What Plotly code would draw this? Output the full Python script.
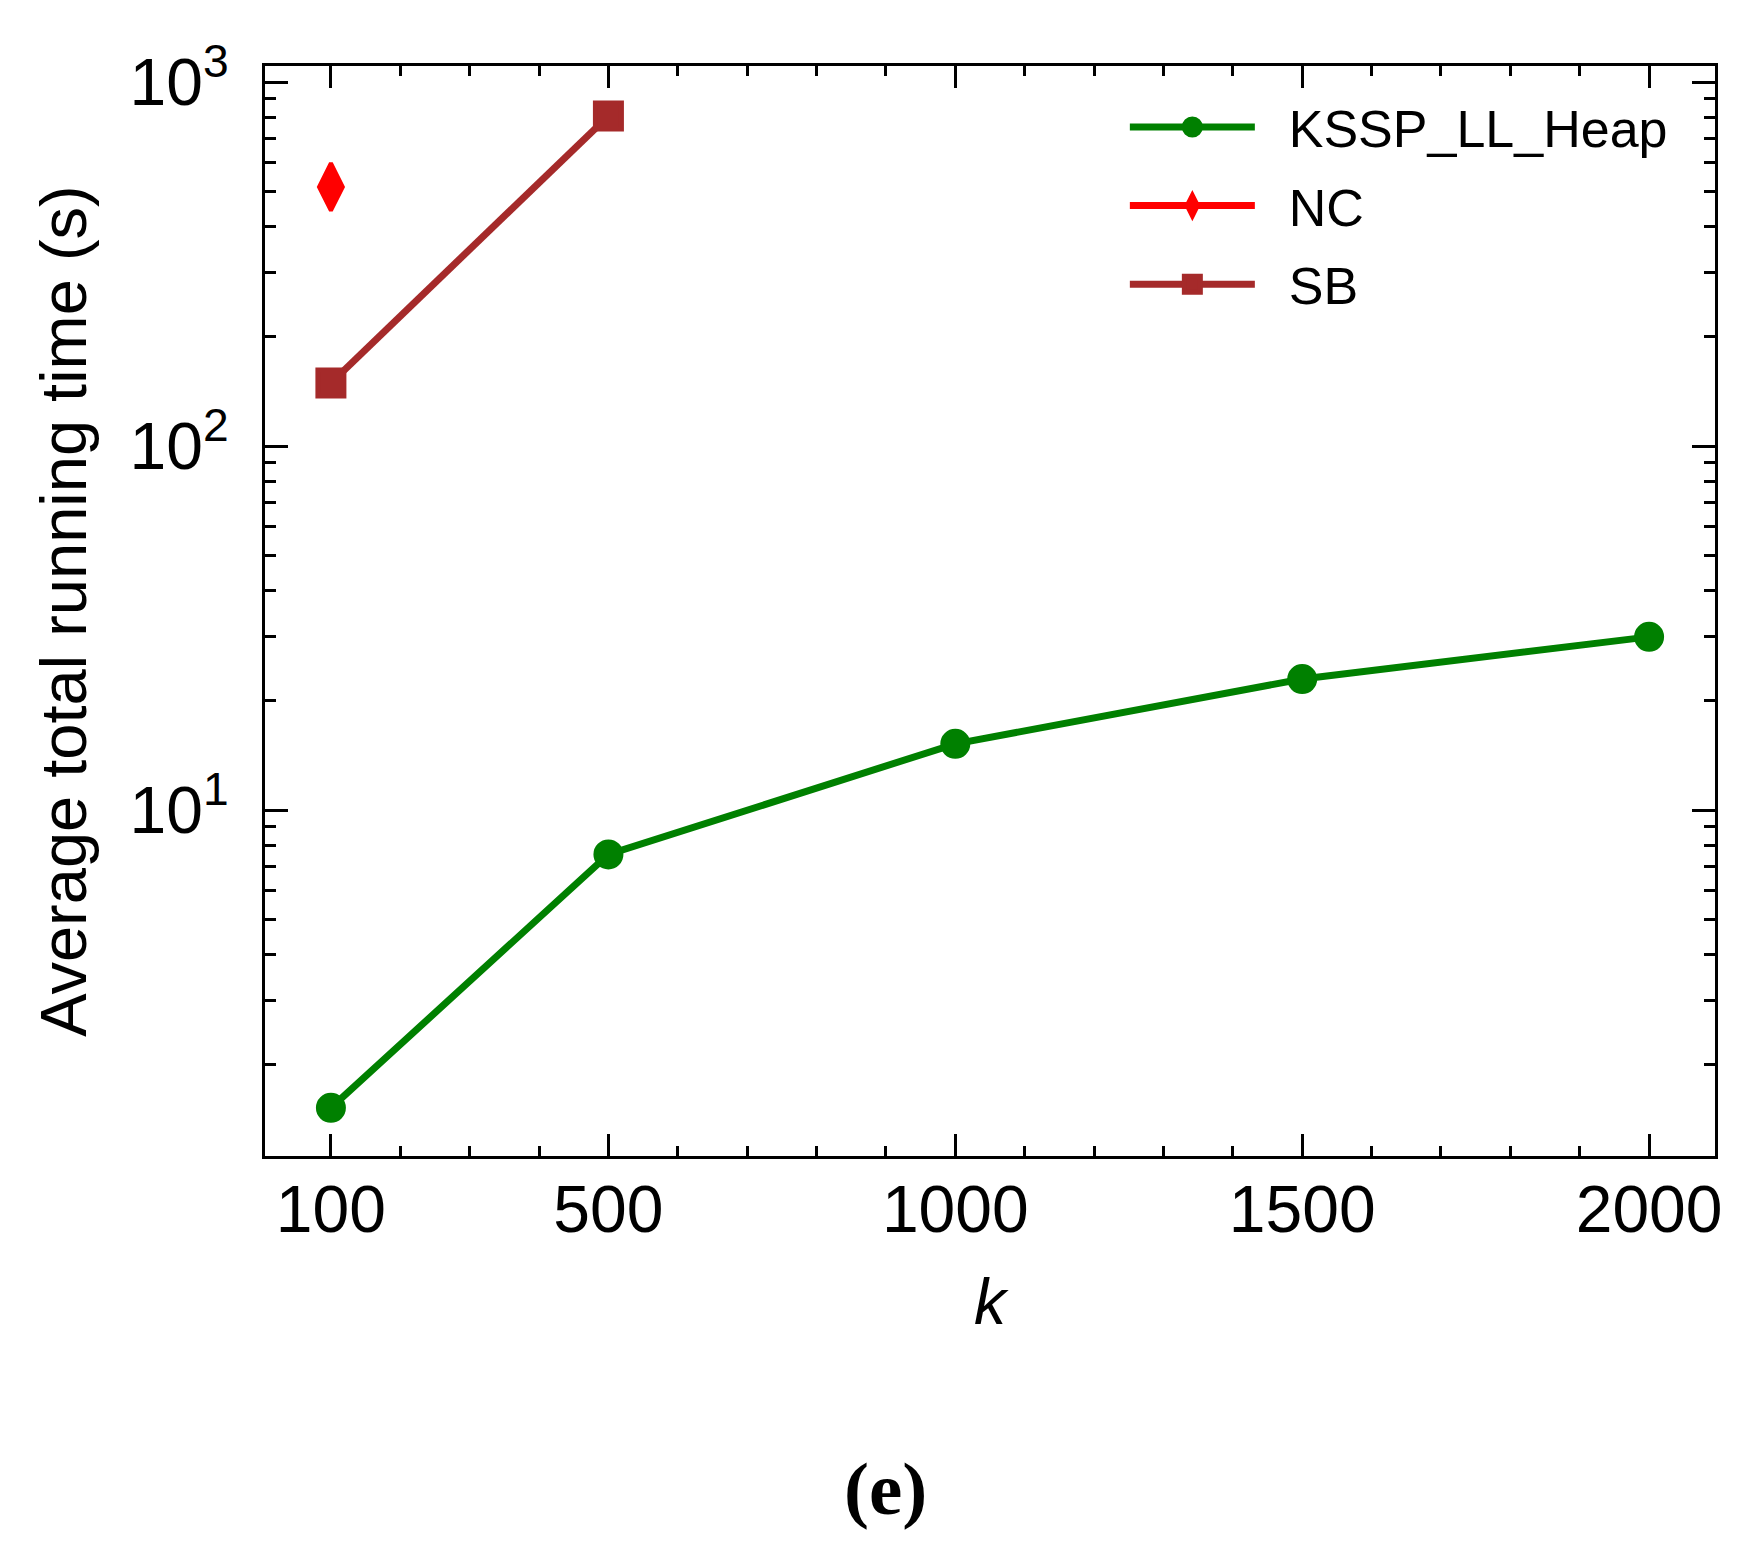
import plotly.graph_objects as go

k_values = [100, 500, 1000, 1500, 2000]
kssp_ll_heap = [1.52, 7.55, 15.2, 22.9, 29.9]
nc_k = [100]
nc_time = [515]
sb_k = [100, 500]
sb_time = [149, 807]

x_ticks = [100, 500, 1000, 1500, 2000]
y_ticks = [10, 100, 1000]
y_ticktext = ["10<sup>1</sup>", "10<sup>2</sup>", "10<sup>3</sup>"]

FONT = "Liberation Sans, Arial, Helvetica, sans-serif"
GAP = "\u00a0\u00a0"  # a little room between legend symbol and text

fig = go.Figure()
fig.add_trace(go.Scatter(
    x=k_values, y=kssp_ll_heap, name=GAP + "KSSP_LL_Heap", mode="lines+markers",
    legendgroup="a",
    line=dict(color="#008000", width=7),
    marker=dict(symbol="circle", size=25, color="#008000",
                line=dict(color="#008000", width=5)),
))
fig.add_trace(go.Scatter(
    x=nc_k, y=nc_time, name=GAP + "NC", mode="lines+markers",
    legendgroup="b",
    line=dict(color="#ff0000", width=7),
    marker=dict(symbol="diamond-tall", size=34, color="#ff0000",
                line=dict(color="#ff0000", width=4)),
))
fig.add_trace(go.Scatter(
    x=sb_k, y=sb_time, name=GAP + "SB", mode="lines+markers",
    legendgroup="c",
    line=dict(color="#a52a2a", width=7),
    marker=dict(symbol="square", size=26, color="#a52a2a",
                line=dict(color="#a52a2a", width=5)),
))

axis_common = dict(
    showgrid=False, zeroline=False, showline=True, linecolor="black", linewidth=3.3,
    mirror="allticks", ticks="inside", tickwidth=3, tickcolor="black",
    tickfont=dict(family=FONT, size=66, color="black"),
)

fig.update_xaxes(
    **axis_common, range=[5, 2095], tickvals=x_ticks, ticklen=22,
    minor=dict(ticks="inside", ticklen=10, tickwidth=3, tickcolor="black",
               tick0=0, dtick=100),
    ticklabelstandoff=-6,
    title=dict(text="<i>k</i>", font=dict(family=FONT, size=64, color="black"),
               standoff=34),
)
fig.update_yaxes(
    **axis_common, type="log", range=[0.0495, 3.044], tickvals=y_ticks,
    ticktext=y_ticktext, ticklen=23,
    minor=dict(ticks="inside", ticklen=11, tickwidth=3, tickcolor="black",
               dtick="D1", showgrid=False),
    ticklabelstandoff=20,
    title=dict(text="Average total running time (s)",
               font=dict(family=FONT, size=65, color="black"), standoff=22),
)

fig.add_annotation(
    text="<b>(e)</b>", xref="paper", yref="paper", x=0.4276, y=-0.3046,
    xanchor="center", yanchor="middle",
    showarrow=False, font=dict(family="Liberation Serif, Times New Roman, serif",
                               size=75, color="black"),
)

fig.update_layout(
    width=1751, height=1561,
    margin=dict(l=257, r=44, t=58, b=413, autoexpand=False),
    paper_bgcolor="white", plot_bgcolor="white",
    showlegend=True,
    legend=dict(x=0.593, y=0.981, xanchor="left", yanchor="top",
                bgcolor="rgba(0,0,0,0)", itemwidth=125,
                traceorder="grouped", tracegroupgap=8,
                font=dict(family=FONT, size=52, color="black")),
)

fig.write_html("out.html")
